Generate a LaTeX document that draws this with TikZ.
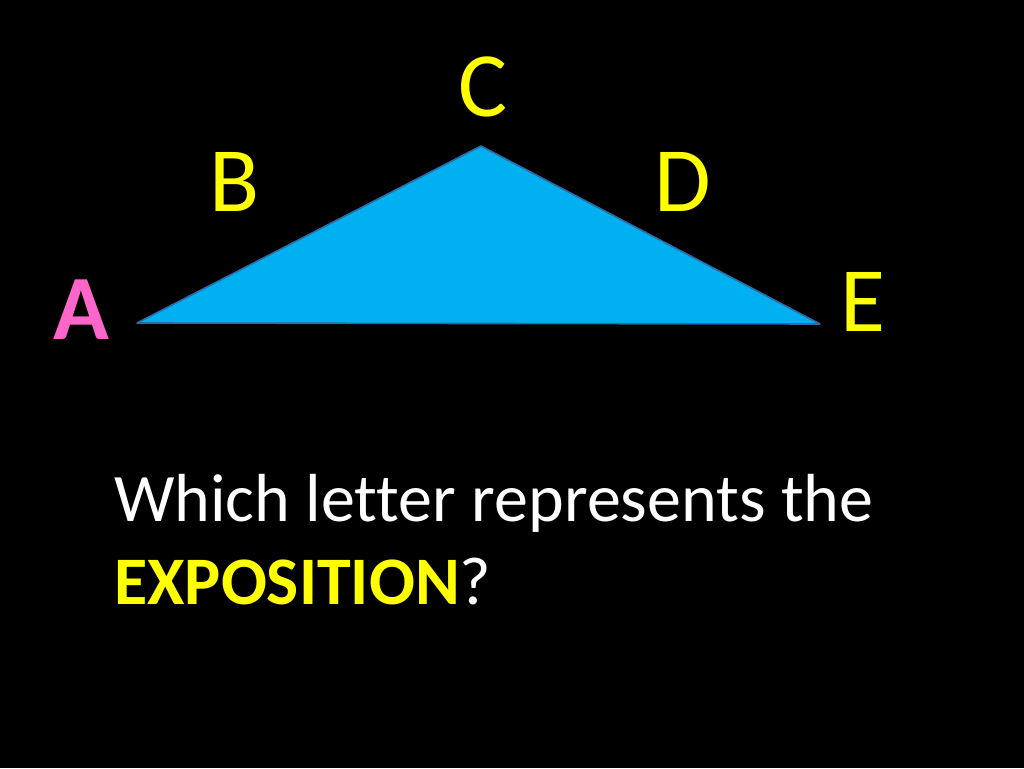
\documentclass[tikz,border=0pt]{standalone}
\usepackage{fontspec}
\setmainfont[Ligatures=NoCommon]{Carlito}
\definecolor{skyfill}{HTML}{00B0F0}
\definecolor{skyedge}{HTML}{2E6AA6}
\definecolor{letteryellow}{HTML}{FFFF00}
\definecolor{letterpink}{HTML}{FF66CC}
\tikzset{
  letter/.style={anchor=base,inner sep=0pt,text=letteryellow,font=\fontsize{92}{92}\selectfont},
  question/.style={anchor=base west,inner sep=0pt,text=white,font=\fontsize{68}{82}\selectfont}
}
\begin{document}
\begin{tikzpicture}[x=1pt,y=1pt]
\fill[black] (0,0) rectangle (1024,768);
\useasboundingbox (0,0) rectangle (1024,768);
\coordinate (left) at (137,445);
\coordinate (apex) at (481,622);
\coordinate (right) at (820,444);
\draw[skyedge,fill=skyfill,line width=1.6pt,line join=round] (left) -- (apex) -- (right) -- cycle;
\node[letter,text=letterpink,font=\fontsize{92}{92}\selectfont\bfseries] (a) at (81,428) {A};
\node[letter] (b) at (235,556) {B};
\node[letter] (c) at (483,651) {C};
\node[letter] (d) at (683,556) {D};
\node[letter] (e) at (863,436) {E};
\node[question] (line1) at (114,246) {Which letter represents the};
\node[question] (line2) at (114,164) {\textcolor{letteryellow}{\bfseries EXPOSITION}?};
\end{tikzpicture}
\end{document}
